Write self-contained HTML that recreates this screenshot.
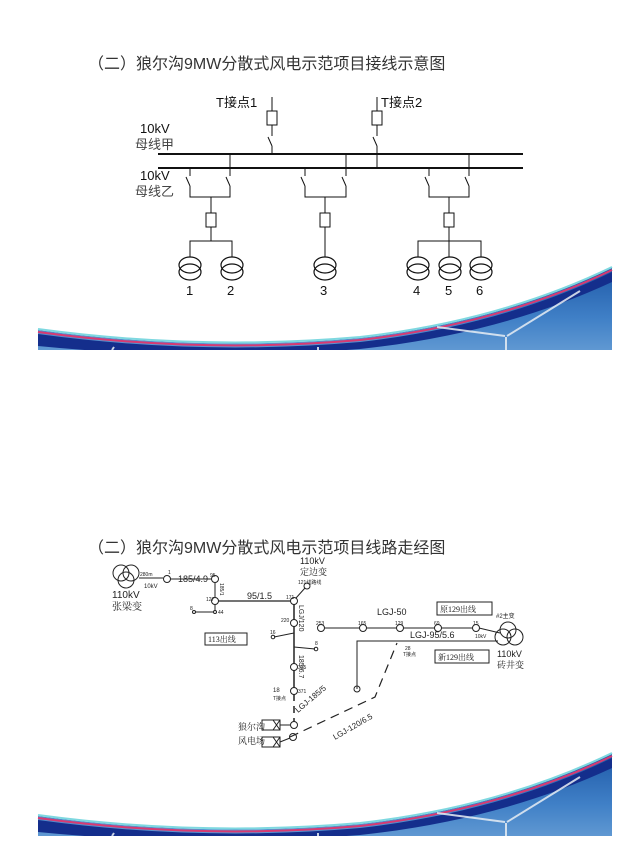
<!DOCTYPE html>
<html><head><meta charset="utf-8"><style>
html,body{margin:0;padding:0;background:#fff;}
svg{display:block;}
text{font-family:"Liberation Sans","Noto Sans CJK SC",sans-serif;}
.cn{font-family:"Liberation Serif","Noto Serif CJK SC",serif;}
</style></head><body>
<svg width="632" height="856" viewBox="0 0 632 856" xmlns="http://www.w3.org/2000/svg">
<defs>
<linearGradient id="sky" x1="0" y1="0" x2="0" y2="1">
<stop offset="0" stop-color="#1f5aa8"/><stop offset="0.6" stop-color="#3f7fc6"/><stop offset="1" stop-color="#5f98d2"/>
</linearGradient>
<g id="banner">
<path d="M38 330 Q200 352 360 338 Q500 322 612 268 L612 350 L38 350 Z" fill="url(#sky)"/>
<path d="M38 334 Q200 356 360 342 Q500 326 612 272 L612 282 Q500 334 360 349 Q200 362 38 346 Z" fill="#142e8c"/>
<path d="M38 332 Q200 354 360 340 Q500 324 612 270" fill="none" stroke="#d83a72" stroke-width="2"/>
<path d="M38 329 Q200 351 360 337 Q500 321 612 267" fill="none" stroke="#7ed8e0" stroke-width="2"/>
<g stroke="#e8eef4" stroke-width="2" fill="none" opacity="0.85">
<line x1="506" y1="350" x2="506" y2="337"/><line x1="507" y1="336" x2="580" y2="291"/><line x1="505" y1="336" x2="437" y2="327"/>
<line x1="318" y1="350" x2="318" y2="347"/><line x1="112" y1="350" x2="114" y2="347"/>
</g>
<rect x="0" y="350" width="632" height="12" fill="#fff"/>
</g>
</defs>

<!-- Slide 1 -->
<text x="88" y="69" font-size="16" fill="#333">（二）狼尔沟9MW分散式风电示范项目接线示意图</text>
<g stroke="#111" fill="none" stroke-width="1">
<line x1="158" y1="154" x2="523" y2="154" stroke-width="2"/>
<line x1="158" y1="168" x2="523" y2="168" stroke-width="2"/>
<line x1="272" y1="97" x2="272" y2="111"/><rect x="267" y="111" width="10" height="14"/>
<line x1="272" y1="125" x2="272" y2="136"/><line x1="268" y1="137" x2="272" y2="146"/><line x1="272" y1="146" x2="272" y2="154"/>
<line x1="377" y1="97" x2="377" y2="111"/><rect x="372" y="111" width="10" height="14"/>
<line x1="377" y1="125" x2="377" y2="136"/><line x1="373" y1="137" x2="377" y2="146"/><line x1="377" y1="146" x2="377" y2="168"/>
</g>
<g stroke="#111" fill="none" stroke-width="1">
<path d="M190 168 V176 M186 177 L190 186 M190 186 V197 H230 V186 M226 177 L230 186 M230 176 V154"/>
<line x1="211" y1="197" x2="211" y2="213"/><rect x="206" y="213" width="10" height="14"/>
<path d="M211 227 V241 M190 257 V241 H232 V257"/>
<path d="M305 168 V176 M301 177 L305 186 M305 186 V197 H346 V186 M342 177 L346 186 M346 176 V154"/>
<line x1="325" y1="197" x2="325" y2="213"/><rect x="320" y="213" width="10" height="14"/>
<path d="M325 227 V257"/>
<path d="M429 168 V176 M425 177 L429 186 M429 186 V197 H469 V186 M465 177 L469 186 M469 176 V154"/>
<line x1="449" y1="197" x2="449" y2="213"/><rect x="444" y="213" width="10" height="14"/>
<path d="M449 227 V257 M418 257 V241 H481 V257"/>
<g stroke-width="1.2">
<ellipse cx="190" cy="265" rx="11" ry="8"/><ellipse cx="190" cy="272" rx="11" ry="8"/>
<ellipse cx="232" cy="265" rx="11" ry="8"/><ellipse cx="232" cy="272" rx="11" ry="8"/>
<ellipse cx="325" cy="265" rx="11" ry="8"/><ellipse cx="325" cy="272" rx="11" ry="8"/>
<ellipse cx="418" cy="265" rx="11" ry="8"/><ellipse cx="418" cy="272" rx="11" ry="8"/>
<ellipse cx="450" cy="265" rx="11" ry="8"/><ellipse cx="450" cy="272" rx="11" ry="8"/>
<ellipse cx="481" cy="265" rx="11" ry="8"/><ellipse cx="481" cy="272" rx="11" ry="8"/>
</g>
</g>
<g font-size="13" fill="#111">
<text x="216" y="107">T接点1</text><text x="381" y="107">T接点2</text>
<text x="140" y="133">10kV</text><text x="135" y="149" fill="#444">母线甲</text>
<text x="140" y="180">10kV</text><text x="135" y="196" fill="#444">母线乙</text>
<text x="186" y="295">1</text><text x="227" y="295">2</text><text x="320" y="295">3</text>
<text x="413" y="295">4</text><text x="445" y="295">5</text><text x="476" y="295">6</text>
</g>
<use href="#banner"/>

<!-- Slide 2 -->
<text x="88" y="553" font-size="16" fill="#333">（二）狼尔沟9MW分散式风电示范项目线路走经图</text>
<g stroke="#222" fill="none" stroke-width="1">
<circle cx="121" cy="573" r="8"/><circle cx="131" cy="573" r="8"/><circle cx="126" cy="580" r="8"/>
<line x1="139" y1="578" x2="163" y2="578"/><circle cx="167" cy="579" r="3.5"/>
<line x1="170" y1="579" x2="212" y2="579"/><circle cx="215" cy="579" r="3.5"/>
<line x1="215" y1="582" x2="215" y2="598"/><circle cx="215" cy="601" r="3.5"/>
<line x1="215" y1="604" x2="215" y2="611"/><circle cx="215" cy="612" r="1.5"/>
<line x1="195" y1="612" x2="214" y2="612"/><circle cx="194" cy="612" r="1.5"/>
<line x1="218" y1="601" x2="291" y2="601" stroke-width="1.3"/>
<circle cx="294" cy="601" r="3.5"/><line x1="296" y1="598" x2="305" y2="588"/><circle cx="307" cy="586" r="3"/>
<line x1="294" y1="604" x2="294" y2="620" stroke-width="1.5"/><circle cx="294" cy="623" r="3.5"/>
<line x1="294" y1="626" x2="294" y2="664" stroke-width="1.5"/>
<line x1="294" y1="633" x2="274" y2="637"/><circle cx="273" cy="637" r="1.8"/>
<line x1="294" y1="647" x2="315" y2="649"/><circle cx="316" cy="649" r="1.8"/>
<circle cx="294" cy="667" r="3.5"/><line x1="294" y1="670" x2="294" y2="688" stroke-width="1.5"/>
<circle cx="294" cy="691" r="3.5"/>
<line x1="294" y1="694" x2="294" y2="722" stroke-width="1.5" stroke-dasharray="7 5"/>
<circle cx="294" cy="725" r="3.5"/><circle cx="293" cy="737" r="3.5"/>
<path d="M290 737 L375 697 L397 643" stroke-dasharray="9 6" stroke-width="1.2"/>
<rect x="262" y="720" width="18" height="10"/><path d="M273 720 L280 730 M280 720 L273 730 M280 725 L290 725"/>
<rect x="262" y="737" width="18" height="10"/><path d="M273 737 L280 747 M280 737 L273 747 M280 742 L290 738"/>
<line x1="324" y1="628" x2="360" y2="628"/><circle cx="321" cy="628" r="3.5"/>
<circle cx="363" cy="628" r="3.5"/><line x1="366" y1="628" x2="397" y2="628"/>
<circle cx="400" cy="628" r="3.5"/><line x1="403" y1="628" x2="435" y2="628"/>
<circle cx="438" cy="628" r="3.5"/><line x1="441" y1="628" x2="473" y2="628"/>
<circle cx="476" cy="628" r="3.5"/><line x1="479" y1="628" x2="500" y2="633"/>
<path d="M357 689 V641 H498"/><circle cx="357" cy="689" r="3"/>
<circle cx="508" cy="630" r="8"/><circle cx="503" cy="637" r="8"/><circle cx="515" cy="637" r="8"/>
<rect x="205" y="633" width="42" height="12"/>
<rect x="437" y="602" width="55" height="13"/>
<rect x="435" y="650" width="54" height="13"/>
</g>
<g font-size="7" fill="#222">
<text x="140" y="576" font-size="5">280m</text><text x="144" y="588" font-size="6">10kV</text>
<text x="168" y="574" font-size="5">1</text><text x="178" y="582" font-size="9">185/4.9</text>
<text x="210" y="577" font-size="5">95</text><text x="206" y="601" font-size="5">127</text>
<text x="190" y="610" font-size="5">8</text><text x="218" y="614" font-size="5">44</text>
<text x="247" y="599" font-size="9">95/1.5</text><text x="286" y="599" font-size="5">171</text>
<text x="281" y="622" font-size="5">220</text><text x="270" y="634" font-size="5">16</text>
<text x="315" y="645" font-size="5">8</text><text x="298" y="669" font-size="5">335</text>
<text x="298" y="693" font-size="5">371</text><text x="273" y="692" font-size="6">18</text>
<text x="273" y="700" font-size="5">T接点</text>
<text x="300" y="564" font-size="9">110kV</text><text x="300" y="575" font-size="9" class="cn">定边变</text>
<text x="298" y="584" font-size="5">121线路线</text>
<text x="112" y="598" font-size="10">110kV</text><text x="112" y="610" font-size="10" class="cn">张梁变</text>
<text x="208" y="642" font-size="8" class="cn">113出线</text>
<text x="316" y="625" font-size="5">253</text><text x="358" y="625" font-size="5">165</text>
<text x="395" y="625" font-size="5">129</text><text x="434" y="625" font-size="5">69</text><text x="473" y="625" font-size="5">15</text>
<text x="377" y="615" font-size="9">LGJ-50</text><text x="410" y="638" font-size="9">LGJ-95/5.6</text>
<text x="475" y="638" font-size="5">10kV</text><text x="496" y="618" font-size="6">#2主变</text>
<text x="440" y="612" font-size="8" class="cn">原129出线</text><text x="438" y="660" font-size="8" class="cn">新129出线</text>
<text x="497" y="657" font-size="9">110kV</text><text x="497" y="668" font-size="9" class="cn">砖井变</text>
<text x="405" y="650" font-size="5">28</text><text x="403" y="656" font-size="5">T接点</text>
<text x="238" y="730" font-size="9" class="cn">狼尔沟</text><text x="238" y="744" font-size="9" class="cn">风电场</text>
<text transform="translate(299,605) rotate(90)" font-size="7">LGJ/120</text>
<text transform="translate(299,655) rotate(90)" font-size="7">185/6.7</text>
<text transform="translate(220,583) rotate(90)" font-size="5">185/1</text>
<text transform="translate(298,713) rotate(-40)" font-size="8">LGJ-185/5</text>
<text transform="translate(335,740) rotate(-30)" font-size="8">LGJ-120/6.5</text>
</g>
<use href="#banner" transform="translate(0,486)"/>
</svg>
</body></html>
